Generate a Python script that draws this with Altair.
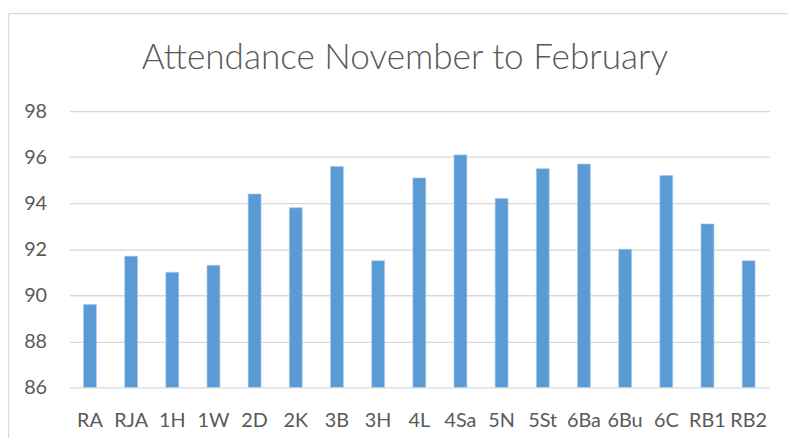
import altair as alt
import pandas as pd

classes = ["RA", "RJA", "1H", "1W", "2D", "2K", "3B", "3H", "4L", "4Sa",
           "5N", "5St", "6Ba", "6Bu", "6C", "RB1", "RB2"]
attendance = [89.6, 91.7, 91.0, 91.3, 94.4, 93.8, 95.6, 91.5, 95.1, 96.1,
              94.2, 95.5, 95.7, 92.0, 95.2, 93.1, 91.5]
y_ticks = [86, 88, 90, 92, 94, 96, 98]
title_text = "Attendance November to February"

df = pd.DataFrame({"class": classes, "attendance": attendance})

FONT = "Lato"
TXT = "#595959"
GRID = "#d9d9d9"

bars = alt.Chart(df).mark_bar(color="#5B9BD5", stroke="#a9c8ea",
                              strokeWidth=0.6, clip=True).encode(
    x=alt.X("class:N", sort=classes, title=None,
            scale=alt.Scale(paddingInner=0.6875, paddingOuter=0.34375),
            axis=alt.Axis(labelAngle=0, labelFont=FONT, labelFontSize=20,
                          labelColor=TXT, labelPadding=24, ticks=False,
                          domain=False, grid=False)),
    y=alt.Y("attendance:Q", title=None,
            scale=alt.Scale(domain=[86, 98], zero=False, nice=False),
            axis=alt.Axis(values=y_ticks, labelFont=FONT, labelFontSize=20,
                          labelColor=TXT, labelPadding=23, ticks=False,
                          domain=False, grid=True, gridColor=GRID,
                          gridWidth=1.3)),
)

frame = pd.DataFrame({"k": [0]})
top_border = alt.Chart(frame).mark_rule(color=GRID, strokeWidth=1.3).encode(
    x=alt.value(-61.5), x2=alt.value(726), y=alt.value(-98.5))
left_border = alt.Chart(frame).mark_rule(color=GRID, strokeWidth=1.3).encode(
    x=alt.value(-61.5), y=alt.value(-98.5), y2=alt.value(330))
title = alt.Chart(pd.DataFrame({"t": [title_text]})).mark_text(
    font=FONT, fontSize=35.5, fontWeight=300, color=TXT,
    align="center", baseline="alphabetic").encode(
    text="t:N", x=alt.value(339), y=alt.value(-43))

chart = alt.layer(bars, top_border, left_border, title).properties(
    width=707, height=279,
    autosize=alt.AutoSizeParams(type="none"),
    padding={"left": 62, "top": 102, "right": 19, "bottom": 50},
).configure_view(stroke=None)

chart.save("out.html", embed_options={"renderer": "svg", "actions": False})
